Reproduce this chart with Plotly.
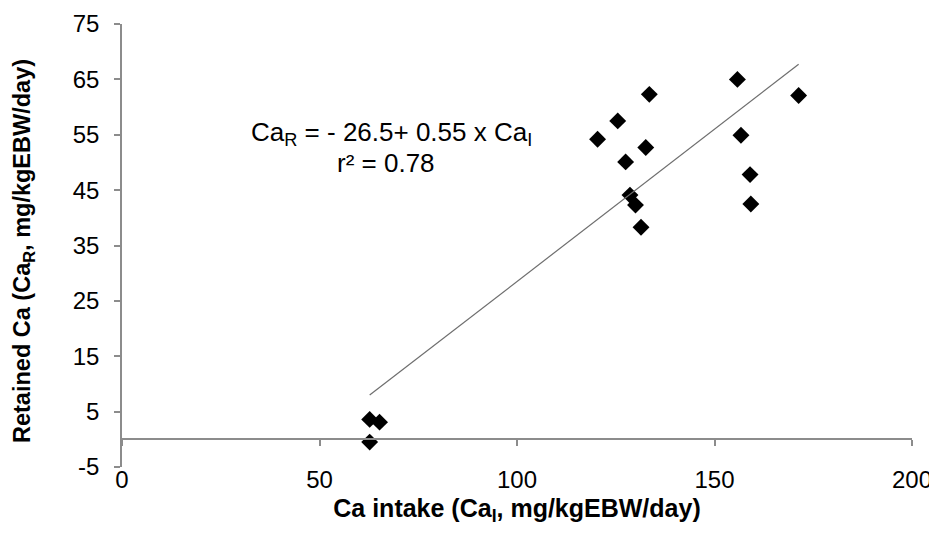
import plotly.graph_objects as go

# Data
ca_intake = [62.7, 65.2, 62.7, 133.5, 125.5, 120.4, 132.6, 127.5, 128.6, 130.0, 131.4,
             155.8, 171.3, 156.7, 159.0, 159.2]
ca_retained = [3.6, 3.1, -0.5, 62.3, 57.5, 54.2, 52.7, 50.1, 44.1, 42.3, 38.3,
               65.0, 62.1, 54.9, 47.8, 42.5]
intercept = -26.5
slope = 0.55
x_ticks = [0, 50, 100, 150, 200]
y_ticks = [-5, 5, 15, 25, 35, 45, 55, 65, 75]
y_tick_text = ["-5", "5", "15", "25", "35", "45", "55", "65", "75"]
x_title = "<b>Ca intake (Ca<sub>I</sub>, mg/kgEBW/day)</b>"
y_title = "<b>Retained Ca (Ca<sub>R</sub>, mg/kgEBW/day)</b>"
eq_line1 = "Ca<sub>R</sub> = - 26.5+ 0.55 x Ca<sub>I</sub>"
eq_line2 = "r² = 0.78"

line_x = [min(ca_intake), max(ca_intake)]
line_y = [intercept + slope * v for v in line_x]

FONT = "Liberation Sans, Arial, sans-serif"
AXIS_COLOR = "#8c8c8c"
W, H = 937, 547
L, T = 114, 16
PW, PH = 790, 443
R = W - L - PW
B = H - T - PH


def px_to_paper(xp, yp):
    return (xp - L) / PW, (H - B - yp) / PH


fig = go.Figure()
fig.add_trace(go.Scatter(
    x=line_x, y=line_y, mode="lines", xaxis="x2",
    line=dict(color="#6e6e6e", width=1.2), hoverinfo="skip", showlegend=False))
fig.add_trace(go.Scatter(
    x=ca_intake, y=ca_retained, mode="markers",
    marker=dict(symbol="diamond", size=13, color="black"),
    showlegend=False))

a1x, a1y = px_to_paper(383, 126)
a2x, a2y = px_to_paper(378, 155)
ytx, yty = px_to_paper(16, 243)

fig.update_layout(
    width=W, height=H,
    margin=dict(l=L, r=R, t=T, b=B),
    paper_bgcolor="white", plot_bgcolor="white",
    font=dict(family=FONT, color="black"),
    xaxis=dict(
        range=[0, 200], tickvals=x_ticks, showgrid=False, zeroline=False,
        showline=False, ticks="", tickfont=dict(size=24), ticklabelstandoff=-4,
        automargin=False,
        title=dict(text=x_title, font=dict(size=25), standoff=7),
    ),
    xaxis2=dict(
        range=[0, 200], matches="x", overlaying="x", anchor="free",
        position=5 / 80, tickvals=x_ticks, showticklabels=False,
        showline=True, linecolor=AXIS_COLOR, linewidth=1.5,
        ticks="outside", ticklen=6, tickcolor=AXIS_COLOR, tickwidth=1.5,
        showgrid=False, zeroline=False, automargin=False,
    ),
    yaxis=dict(
        range=[-5, 75], tickvals=y_ticks, ticktext=y_tick_text,
        showgrid=False, zeroline=False,
        showline=True, linecolor=AXIS_COLOR, linewidth=1.5,
        ticks="outside", ticklen=6, tickcolor=AXIS_COLOR, tickwidth=1.5,
        tickfont=dict(size=24), ticklabelstandoff=10, automargin=False,
    ),
    annotations=[
        dict(x=a1x, y=a1y, xref="paper", yref="paper", text=eq_line1,
             xanchor="center", yanchor="middle", showarrow=False,
             font=dict(size=26, family=FONT)),
        dict(x=a2x, y=a2y, xref="paper", yref="paper", text=eq_line2,
             xanchor="center", yanchor="middle", showarrow=False,
             font=dict(size=26, family=FONT)),
        dict(x=ytx, y=yty, xref="paper", yref="paper", text=y_title,
             textangle=-90, xanchor="center", yanchor="middle",
             showarrow=False, font=dict(size=23.5, family=FONT)),
    ],
)

fig.write_html("out.html")
